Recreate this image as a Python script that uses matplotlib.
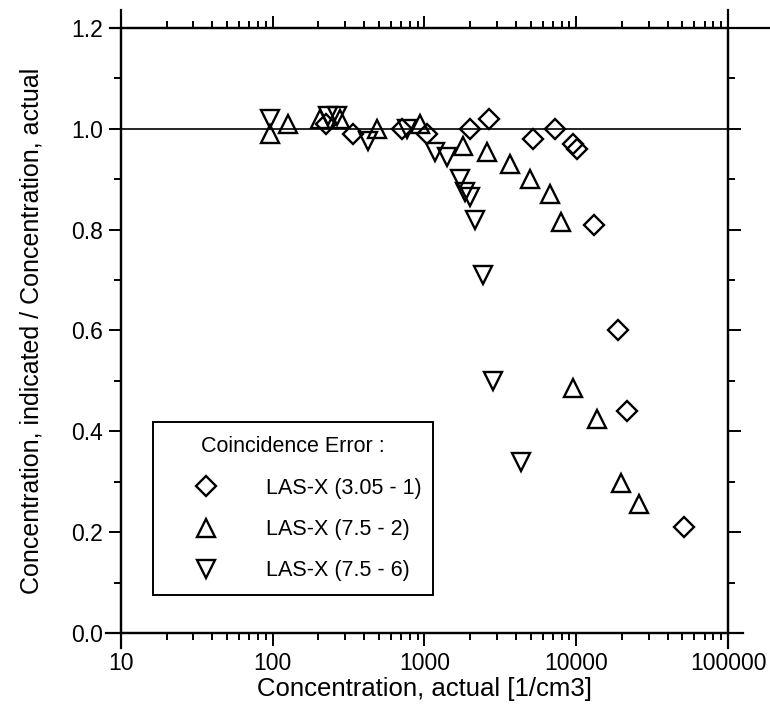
import matplotlib.pyplot as plt
from matplotlib.lines import Line2D
from matplotlib.ticker import LogLocator, MultipleLocator, NullFormatter
import numpy as np

plt.rcParams['font.family'] = ['Liberation Sans', 'DejaVu Sans']

# ---------- data ----------
diamond_x = [224, 338, 711, 1038, 1997, 2662, 5190, 7250, 9530, 10120, 13090, 18840, 21570, 51300]
diamond_y = [1.01, 0.99, 1.00, 0.99, 1.00, 1.02, 0.98, 1.00, 0.97, 0.96, 0.81, 0.60, 0.44, 0.21]

up_x = [96, 126, 205, 277, 486, 934, 1795, 2583, 3657, 4955, 6710, 7950, 9530, 13700, 19720, 25930]
up_y = [0.99, 1.01, 1.02, 1.02, 1.00, 1.01, 0.965, 0.955, 0.93, 0.90, 0.87, 0.815, 0.485, 0.425, 0.297, 0.256]

down_x = [96, 231, 265, 425, 767, 1172, 1406, 1714, 1850, 1997, 2152, 2427, 2825, 4324]
down_y = [1.02, 1.025, 1.025, 0.975, 1.00, 0.955, 0.945, 0.90, 0.875, 0.865, 0.82, 0.71, 0.50, 0.34]

labels = ["LAS-X (3.05 - 1)", "LAS-X (7.5 - 2)", "LAS-X (7.5 - 6)"]
xticks = [10, 100, 1000, 10000, 100000]
yticks = [0.0, 0.2, 0.4, 0.6, 0.8, 1.0, 1.2]

fig = plt.figure(figsize=(7.7, 7.18), dpi=100)
ax = fig.add_axes([0.157, 0.1184, 0.7885, 0.8426])

mk = dict(linestyle='none', mfc='none', mec='black', mew=1.7)
ax.plot(diamond_x, diamond_y, marker='D', ms=10, **mk)
ax.plot(up_x, up_y, marker='^', ms=13, **mk)
ax.plot(down_x, down_y, marker='v', ms=13, **mk)

ax.axhline(1.0, color='black', lw=1.2, zorder=1)

ax.set_xscale('log')
ax.set_xlim(10, 100000)
ax.set_ylim(0, 1.2)
ax.set_xticks(xticks)
ax.set_xticklabels([str(t) for t in xticks])
ax.xaxis.set_minor_locator(LogLocator(base=10, subs=np.arange(2, 10)))
ax.xaxis.set_minor_formatter(NullFormatter())
ax.set_yticks(yticks)
ax.set_yticklabels([f"{t:.1f}" for t in yticks])
ax.yaxis.set_minor_locator(MultipleLocator(0.1))

ax.tick_params(which='both', direction='out', top=True, right=True,
               labelsize=16.5, width=1.4, pad=5)
ax.tick_params(axis='y', pad=4)
ax.tick_params(which='major', length=9)
ax.tick_params(which='minor', length=5)
for s in ax.spines.values():
    s.set_linewidth(1.6)

# axis lines run a little past the corners
ext = 0.025
for pts in [([-ext, 1 + ext], [0, 0]), ([-0.018, 1 + 0.07], [1, 1]),
            ([0, 0], [-ext, 1 + 0.03]), ([1, 1], [-ext, 1 + 0.03])]:
    ax.add_line(Line2D(pts[0], pts[1], transform=ax.transAxes, color='black',
                       lw=1.6, clip_on=False))

ax.set_xlabel("Concentration, actual [1/cm3]", fontsize=18.5, labelpad=1)
ax.set_ylabel("Concentration, indicated / Concentration, actual", fontsize=18, labelpad=20)

handles = [Line2D([], [], marker='D', ms=10, **mk),
           Line2D([], [], marker='^', ms=13, **mk),
           Line2D([], [], marker='v', ms=13, **mk)]
leg = ax.legend(handles, labels, title="Coincidence Error :", loc='lower left',
                bbox_to_anchor=(0.053, 0.062, 0.461, 0.29), mode='expand',
                fontsize=15.5, title_fontsize=15.5, frameon=True, fancybox=False,
                edgecolor='black', framealpha=1, borderpad=0.65, labelspacing=0.95,
                handlelength=3.6, handletextpad=1.0, borderaxespad=0)
leg.get_frame().set_linewidth(1.4)

fig.savefig("out.png", dpi=100)
